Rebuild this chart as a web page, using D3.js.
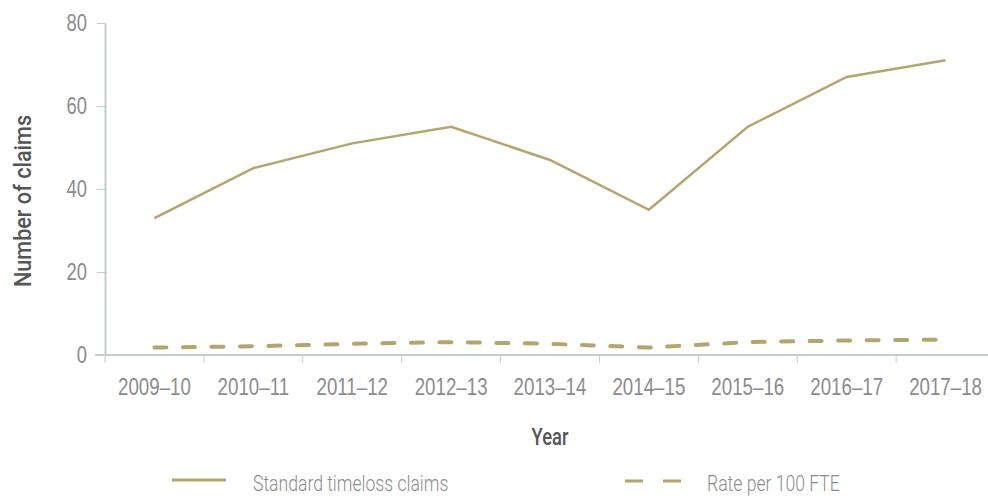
<!DOCTYPE html>
<html>
<head>
<meta charset="utf-8">
<script src="https://cdn.jsdelivr.net/npm/d3@7"></script>
<style>
  body { margin: 0; background: #fff; }
  svg { display: block; font-family: Roboto, "Liberation Sans", sans-serif; }
  .tick text { fill: #8c8c8c; font-weight: 300; }
  .domain, .tick line { stroke: #c3ceca; }
</style>
</head>
<body>
<svg id="chart" width="988" height="500"></svg>
<script>
// Financial years on the x axis
const years = ["2009–10", "2010–11", "2011–12", "2012–13", "2013–14", "2014–15", "2015–16", "2016–17", "2017–18"];
// Standard timeloss claims per year
const claims = [33, 45, 51, 55, 47, 35, 55, 67, 71];
// Claims rate per 100 FTE
const ratePer100 = [1.8, 2.1, 2.7, 3.1, 2.7, 1.8, 3.1, 3.5, 3.7];
const yTicks = [0, 20, 40, 60, 80];

const colour = "#b5a56b";
const svg = d3.select("#chart");
const margin = { left: 105, right: -7, top: 23, bottom: 145 };
const width = 988, height = 500;

// Squeeze text horizontally about its anchor point to give a condensed face
function condense(sel, factor) {
  sel.each(function () {
    const t = d3.select(this);
    const x0 = +(t.attr("x") || 0);
    t.attr("x", 0).attr("transform", `translate(${x0},0) scale(${factor},1)`);
  });
}

const x = d3.scaleBand().domain(years).range([margin.left, width - margin.right]);
const y = d3.scaleLinear().domain([0, 80]).range([height - margin.bottom, margin.top]);

// Axes
const xAxis = svg.append("g")
  .attr("transform", `translate(0,${y(0)})`)
  .call(d3.axisBottom(x).tickSizeOuter(0).tickSize(0))
  .call(g => g.select(".domain").attr("stroke-width", 2).attr("d", `M${margin.left - 10},0H${width}`));
xAxis.selectAll(".tick text")
  .attr("y", 40).attr("dy", 0)
  .style("font-size", "24px")
  .call(condense, 0.78);
// Boundary ticks between categories
xAxis.selectAll(".boundary")
  .data(years.map(d => x(d)))
  .join("line")
  .attr("x1", d => d).attr("x2", d => d)
  .attr("y1", 0).attr("y2", 8)
  .attr("stroke", "#c3ceca").attr("stroke-width", 1);

const yAxis = svg.append("g")
  .attr("transform", `translate(${margin.left},0)`)
  .call(d3.axisLeft(y).tickValues(yTicks).tickSize(8).tickPadding(10).tickSizeOuter(0))
  .call(g => g.select(".domain").attr("stroke-width", 2));
yAxis.selectAll(".tick text")
  .style("font-size", "23px")
  .call(condense, 0.8);

// Axis titles
svg.append("text")
  .attr("transform", `translate(31,${(y(0) + y(80)) / 2 + 12}) rotate(-90)`)
  .attr("text-anchor", "middle")
  .style("font-size", "24px").style("font-weight", "500").attr("fill", "#555")
  .attr("textLength", 172).attr("lengthAdjust", "spacingAndGlyphs")
  .text("Number of claims");

svg.append("text")
  .attr("x", 550).attr("y", 445)
  .attr("text-anchor", "middle")
  .style("font-size", "23px").style("font-weight", "500").attr("fill", "#555")
  .text("Year")
  .call(condense, 0.8);

// Series lines
const cx = d => x(d) + x.bandwidth() / 2;
const line = d3.line().x((v, i) => cx(years[i])).y(v => y(v));

svg.append("path")
  .attr("d", line(claims))
  .attr("fill", "none").attr("stroke", colour).attr("stroke-width", 2.5);

svg.append("path")
  .attr("d", line(ratePer100))
  .attr("fill", "none").attr("stroke", colour).attr("stroke-width", 4)
  .attr("stroke-linecap", "round").attr("stroke-dasharray", "12,16.5");

// Legend
const legend = svg.append("g");
legend.append("line")
  .attr("x1", 172).attr("x2", 226).attr("y1", 480).attr("y2", 480)
  .attr("stroke", colour).attr("stroke-width", 3);
legend.append("text")
  .attr("x", 253).attr("y", 491)
  .style("font-size", "22px").style("font-weight", "300").attr("fill", "#8c8c8c")
  .text("Standard timeloss claims")
  .call(condense, 0.8);
legend.append("line")
  .attr("x1", 625).attr("x2", 681).attr("y1", 481).attr("y2", 481)
  .attr("stroke", colour).attr("stroke-width", 3)
  .attr("stroke-dasharray", "18,20");
legend.append("text")
  .attr("x", 707).attr("y", 491)
  .style("font-size", "22px").style("font-weight", "300").attr("fill", "#8c8c8c")
  .text("Rate per 100 FTE")
  .call(condense, 0.8);
</script>
</body>
</html>
